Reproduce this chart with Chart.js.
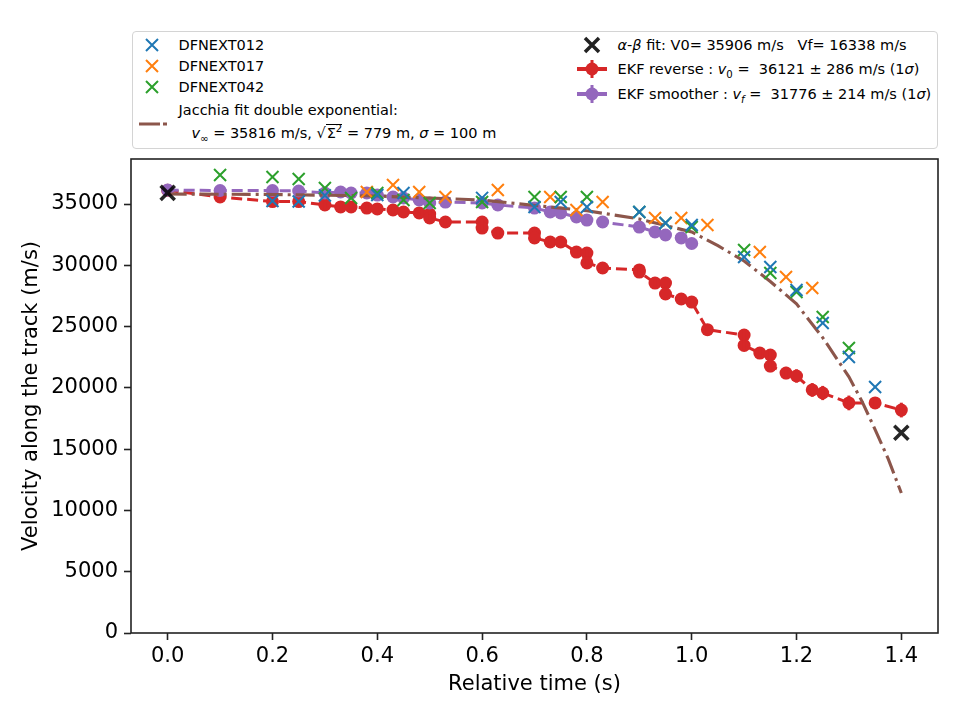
<!DOCTYPE html>
<html>
<head>
<meta charset="utf-8">
<title>Velocity along the track</title>
<script src="https://cdn.jsdelivr.net/npm/chart.js@4.4.0/dist/chart.umd.min.js"></script>
<style>
    body { margin: 0; background: #fff; }
    #wrap { position: relative; width: 960px; height: 720px; }
    #legend {
        position: absolute; left: 132px; top: 31px; width: 804px; height: 116px;
        border: 1.5px solid #d4d4d4; border-radius: 4px; background: #fff;
        font-family: "DejaVu Sans"; font-size: 14.5px; color: #000;
    }
    .item { position: absolute; white-space: nowrap; line-height: 20px; height: 20px; }
    .mk { position: absolute; }
    sub, sup { font-size: 70%; line-height: 0; }
    .rad { border-top: 1px solid #000; padding-left: 1px; }
</style>
</head>
<body>
<div id="wrap">
    <canvas id="chart" width="960" height="720"></canvas>
    <div id="legend">
        <svg class="mk" style="left:8.5px;top:2.5px" width="20" height="20"><path d="M4,4 L16,16 M16,4 L4,16" stroke="#1f77b4" stroke-width="2"/></svg>
        <div class="item" style="left:45.5px;top:2.5px">DFNEXT012</div>
        <svg class="mk" style="left:8.5px;top:23.5px" width="20" height="20"><path d="M4,4 L16,16 M16,4 L4,16" stroke="#ff7f0e" stroke-width="2"/></svg>
        <div class="item" style="left:45.5px;top:23.5px">DFNEXT017</div>
        <svg class="mk" style="left:8.5px;top:44.5px" width="20" height="20"><path d="M4,4 L16,16 M16,4 L4,16" stroke="#2ca02c" stroke-width="2"/></svg>
        <div class="item" style="left:45.5px;top:44.5px">DFNEXT042</div>
        <svg class="mk" style="left:3.5px;top:86.5px" width="32" height="10"><path d="M2,5 L23,5 M26,5 L30,5" stroke="#8c564b" stroke-width="3.1"/></svg>
        <div class="item" style="left:45.5px;top:67.5px">Jacchia fit double exponential:</div>
        <div class="item" style="left:58.5px;top:90.5px"><i>v</i><sub>∞</sub> = 35816 m/s, √<span class="rad">Σ<sup>2</sup></span> = 779 m, <i>σ</i> = 100 m</div>

        <svg class="mk" style="left:446.5px;top:0.5px" width="24" height="24"><path d="M5,5 L19,19 M19,5 L5,19" stroke="#222" stroke-width="3.5"/></svg>
        <div class="item" style="left:484.5px;top:2.5px"><i>α</i>-<i>β</i> fit: V0= 35906 m/s&nbsp;&nbsp; Vf= 16338 m/s</div>
        <svg class="mk" style="left:443.5px;top:24.5px" width="30" height="24"><path d="M0,12 L30,12" stroke="#d62728" stroke-width="4"/><path d="M15,3 L15,21" stroke="#d62728" stroke-width="3"/><circle cx="15" cy="12" r="6.5" fill="#d62728"/></svg>
        <div class="item" style="left:484.5px;top:26.5px">EKF reverse : <i>v</i><sub>0</sub> =&nbsp; 36121 ± 286 m/s (1<i>σ</i>)</div>
        <svg class="mk" style="left:443.5px;top:49.5px" width="30" height="24"><path d="M0,12 L30,12" stroke="#9467bd" stroke-width="4"/><path d="M15,3 L15,21" stroke="#9467bd" stroke-width="3"/><circle cx="15" cy="12" r="6.5" fill="#9467bd"/></svg>
        <div class="item" style="left:484.5px;top:51.5px">EKF smoother : <i>v<sub>f</sub></i> =&nbsp; 31776 ± 214 m/s (1<i>σ</i>)</div>
    </div>
</div>
<script>
// Axis ticks
const xTicks = [0, 0.2, 0.4, 0.6, 0.8, 1.0, 1.2, 1.4];
const yTicks = [0, 5000, 10000, 15000, 20000, 25000, 30000, 35000];

// Camera observations
const t012 = [0.2, 0.25, 0.3, 0.4, 0.45, 0.6, 0.7, 0.75, 0.8, 0.9, 0.95, 1.0, 1.1, 1.15, 1.2, 1.25, 1.3, 1.35];
const v012 = [35250, 35200, 35700, 35730, 35900, 35500, 34760, 35160, 34760, 34350, 33450, 33290, 30680, 29860, 27980, 25290, 22520, 20070];

const t017 = [0.38, 0.43, 0.48, 0.53, 0.63, 0.73, 0.78, 0.83, 0.93, 0.98, 1.03, 1.13, 1.18, 1.23];
const v017 = [35980, 36550, 35980, 35570, 36140, 35570, 34510, 35160, 33860, 33860, 33290, 31080, 29040, 28150];

const t042 = [0.1, 0.2, 0.25, 0.3, 0.35, 0.4, 0.45, 0.5, 0.6, 0.7, 0.75, 0.8, 0.9, 0.95, 1.0, 1.1, 1.15, 1.2, 1.25, 1.3];
const v042 = [37370, 37200, 37040, 36300, 35490, 35900, 35330, 35080, 35160, 35570, 35570, 35570, 34350, 33450, 33120, 31250, 29370, 27820, 25780, 23250];

// Jacchia fit curve
const tJac = [0, 0.2, 0.4, 0.6, 0.8, 0.9, 1.0, 1.05, 1.1, 1.15, 1.2, 1.25, 1.3, 1.325, 1.35, 1.375, 1.4];
const vJac = [35816, 35780, 35650, 35320, 34450, 33780, 32720, 31600, 30350, 28680, 26850, 24100, 20900, 18900, 16600, 14200, 11420];

// alpha-beta fit
const tAB = [0, 1.4];
const vAB = [35906, 16338];

// EKF reverse (with 1 sigma errors)
const tRev = [0, 0.1, 0.2, 0.25, 0.3, 0.33, 0.35, 0.38, 0.4, 0.43, 0.45, 0.48, 0.5, 0.5, 0.53, 0.6, 0.6, 0.63, 0.7, 0.7,
              0.73, 0.75, 0.78, 0.8, 0.8, 0.83, 0.9, 0.9, 0.93, 0.95, 0.95, 0.98, 1.0, 1.03, 1.1, 1.1, 1.13, 1.15, 1.15, 1.18,
              1.2, 1.23, 1.25, 1.3, 1.35, 1.4];
const vRev = [36121, 35570, 35200, 35200, 34920, 34760, 34760, 34670, 34600, 34510, 34350, 34270, 34180, 33860, 33530, 33530, 33040, 32630, 32630, 32230,
              31900, 31900, 31080, 31000, 30190, 29780, 29620, 29450, 28550, 28550, 27660, 27250, 27000, 24750, 24310, 23460, 22840, 22680, 21780, 21210,
              20970, 19830, 19580, 18770, 18770, 18190];
const eRev = [286, 250, 250, 250, 250, 250, 250, 250, 250, 250, 250, 250, 250, 250, 250, 250, 250, 250, 250, 250,
              250, 250, 280, 280, 280, 280, 300, 300, 300, 300, 300, 320, 320, 350, 420, 420, 450, 450, 500, 500,
              540, 560, 580, 600, 450, 600];

// EKF smoother
const tSm = [0, 0.1, 0.2, 0.25, 0.3, 0.33, 0.35, 0.38, 0.4, 0.43, 0.45, 0.48, 0.5, 0.53, 0.6, 0.63, 0.7, 0.73, 0.75, 0.78, 0.8, 0.83, 0.9, 0.93, 0.95, 0.98, 1.0];
const vSm = [36140, 36100, 36100, 36060, 35900, 35980, 35900, 35900, 35730, 35570, 35490, 35330, 35080, 35160, 35080, 34920, 34670, 34350, 34270, 33940, 33690, 33530, 33120, 32720, 32470, 32230, 31776];

const toPts = (xs, ys) => xs.map((x, i) => ({ x: x, y: ys[i] }));

const RED = '#d62728', PURPLE = '#9467bd';

function crosses(label, xs, ys, color) {
    return {
        label: label,
        data: toPts(xs, ys),
        showLine: false,
        pointStyle: 'crossRot',
        pointRadius: 8.5,
        pointBorderWidth: 2,
        borderColor: color,
        backgroundColor: color
    };
}

function ekf(label, xs, ys, color) {
    return {
        label: label,
        data: toPts(xs, ys),
        showLine: true,
        borderColor: color,
        borderWidth: 3,
        borderDash: [11, 5],
        pointRadius: 6.5,
        pointBackgroundColor: color,
        pointBorderColor: color,
        pointBorderWidth: 0
    };
}

// draw order: first dataset ends up on top
const datasets = [
    {
        label: 'alpha-beta fit',
        data: toPts(tAB, vAB),
        showLine: false,
        pointStyle: 'crossRot',
        pointRadius: 10,
        pointBorderWidth: 3.5,
        borderColor: 'rgba(0,0,0,0.85)'
    },
    crosses('DFNEXT012', t012, v012, '#1f77b4'),
    crosses('DFNEXT042', t042, v042, '#2ca02c'),
    crosses('DFNEXT017', t017, v017, '#ff7f0e'),
    {
        label: 'Jacchia fit',
        data: toPts(tJac, vJac),
        showLine: true,
        pointRadius: 0,
        borderColor: '#8c564b',
        borderWidth: 3.1,
        borderDash: [19, 5, 3, 5]
    },
    ekf('EKF smoother', tSm, vSm, PURPLE),
    ekf('EKF reverse', tRev, vRev, RED)
];
const REV_INDEX = datasets.length - 1;

const errorBars = {
    id: 'errorBars',
    afterDatasetDraw(chart, args) {
        if (args.index !== REV_INDEX) return;
        const { ctx, scales: { x, y } } = chart;
        ctx.save();
        ctx.strokeStyle = RED;
        ctx.lineWidth = 3;
        tRev.forEach((t, i) => {
            const px = x.getPixelForValue(t);
            ctx.beginPath();
            ctx.moveTo(px, y.getPixelForValue(vRev[i] - eRev[i]));
            ctx.lineTo(px, y.getPixelForValue(vRev[i] + eRev[i]));
            ctx.stroke();
        });
        ctx.restore();
    }
};

const frame = {
    id: 'frame',
    afterDraw(chart) {
        const { ctx, chartArea: a } = chart;
        ctx.save();
        ctx.strokeStyle = '#222';
        ctx.lineWidth = 1.6;
        ctx.strokeRect(a.left, a.top, a.right - a.left, a.bottom - a.top);
        ctx.restore();
    }
};

Chart.defaults.font.family = '"DejaVu Sans"';
Chart.defaults.color = '#000';

new Chart(document.getElementById('chart'), {
    type: 'scatter',
    data: { datasets: datasets },
    options: {
        responsive: false,
        animation: false,
        layout: { padding: { left: 0, right: 22, top: 159, bottom: 0 } },
        plugins: {
            legend: { display: false },
            tooltip: { enabled: false }
        },
        scales: {
            x: {
                type: 'linear',
                min: -0.07,
                max: 1.47,
                afterBuildTicks: s => { s.ticks = xTicks.map(v => ({ value: v })); },
                afterFit: s => { s.height = 87; },
                ticks: { callback: v => v.toFixed(1), font: { size: 21 }, color: '#000', padding: 4, maxRotation: 0, autoSkip: false },
                grid: { drawOnChartArea: false, tickLength: 7, tickColor: '#222', tickWidth: 1.6 },
                border: { display: false },
                title: { display: true, text: 'Relative time (s)', font: { size: 21 }, color: '#000', padding: { top: 0, bottom: 23 } }
            },
            y: {
                type: 'linear',
                min: 0,
                max: 38672,
                afterBuildTicks: s => { s.ticks = yTicks.map(v => ({ value: v })); },
                afterFit: s => { s.width = 131; },
                ticks: { callback: v => String(v), font: { size: 21 }, color: '#000', padding: 6, autoSkip: false },
                grid: { drawOnChartArea: false, tickLength: 7, tickColor: '#222', tickWidth: 1.6 },
                border: { display: false },
                title: { display: true, text: 'Velocity along the track (m/s)', font: { size: 21 }, color: '#000', padding: { top: 19, bottom: 0 } }
            }
        }
    },
    plugins: [errorBars, frame]
});
</script>
</body>
</html>
